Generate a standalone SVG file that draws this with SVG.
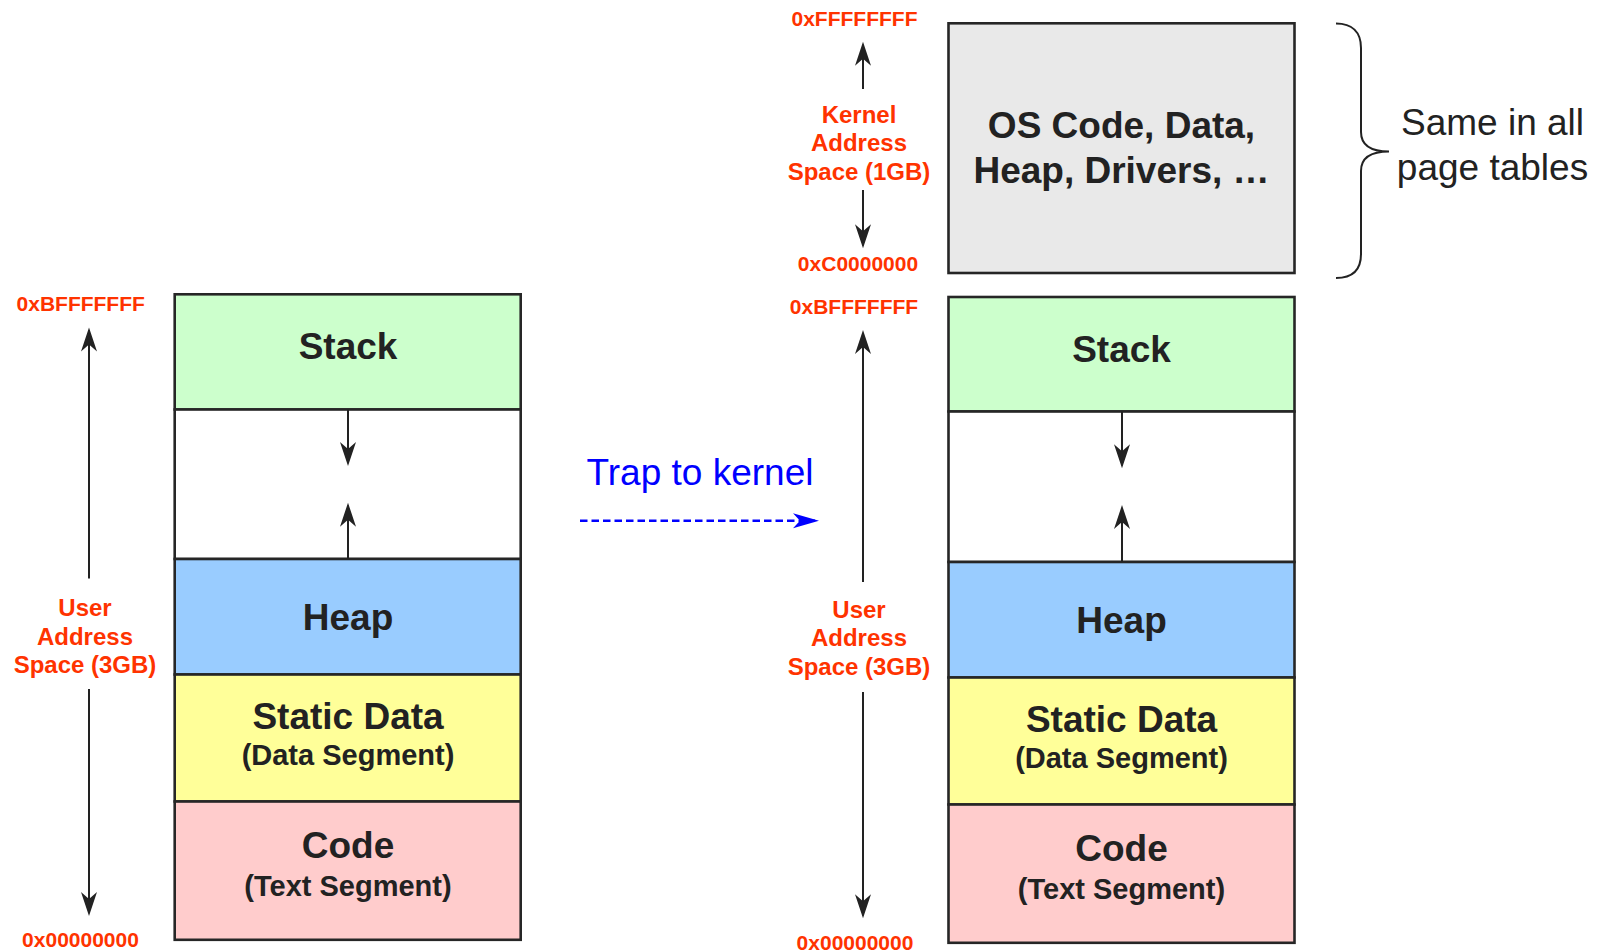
<svg xmlns="http://www.w3.org/2000/svg" width="1605" height="952" viewBox="0 0 1605 952">
<style>
.seg{stroke:#262626;stroke-width:2.6}
.t{font-family:"Liberation Sans",Arial,sans-serif;font-weight:bold;fill:#222;text-anchor:middle}
.big{font-size:37px}
.sub{font-size:29px}
.lbl{font-family:"Liberation Sans",Arial,sans-serif;font-weight:bold;fill:#ff3300;text-anchor:middle;font-size:24px}
.addr{font-family:"Liberation Sans",Arial,sans-serif;font-weight:bold;fill:#ff3300;text-anchor:middle;font-size:21px}
.ln{stroke:#222;stroke-width:2;fill:none}
.note{font-family:"Liberation Sans",Arial,sans-serif;fill:#222;text-anchor:middle;font-size:37px}
</style>
<defs>
<marker id="ah" markerUnits="userSpaceOnUse" viewBox="-24 -9 30 18" markerWidth="30" markerHeight="18" refX="0" refY="0" orient="auto">
<path d="M3,0 L-21,-8 L-14,0 L-21,8 Z" fill="#222"/>
</marker>
<marker id="ahb" markerUnits="userSpaceOnUse" viewBox="-26 -9 32 18" markerWidth="32" markerHeight="18" refX="0" refY="0" orient="auto">
<path d="M4,0 L-22,-7.5 L-15,0 L-22,7.5 Z" fill="#0000ff"/>
</marker>
</defs>

<g id="left-space">
<g id="left-stack"><rect class="seg" x="174.7" y="294.3" width="346" height="115.2" fill="#ccffcc"/><text class="t big" x="348" y="359">Stack</text></g>
<g id="left-gap"><rect class="seg" x="174.7" y="409.5" width="346" height="149.5" fill="#ffffff"/></g>
<g id="left-heap"><rect class="seg" x="174.7" y="559" width="346" height="115.5" fill="#99ccff"/><text class="t big" x="348" y="630">Heap</text></g>
<g id="left-static"><rect class="seg" x="174.7" y="674.5" width="346" height="127" fill="#ffff99"/><text class="t big" x="348" y="729">Static Data</text><text class="t sub" x="348" y="765">(Data Segment)</text></g>
<g id="left-code"><rect class="seg" x="174.7" y="801.5" width="346" height="138.3" fill="#ffcccc"/><text class="t big" x="348" y="858">Code</text><text class="t sub" x="348" y="896">(Text Segment)</text></g>
</g>

<g id="right-space">
<g id="kernel"><rect class="seg" x="948.5" y="23.3" width="346" height="249.7" fill="#e9e9e9"/><text class="t big" x="1121.5" y="138">OS Code, Data,</text><text class="t big" x="1121.5" y="183">Heap, Drivers, …</text></g>
<g id="right-stack"><rect class="seg" x="948.5" y="297" width="346" height="114.5" fill="#ccffcc"/><text class="t big" x="1121.5" y="361.5">Stack</text></g>
<g id="right-gap"><rect class="seg" x="948.5" y="411.5" width="346" height="150.5" fill="#ffffff"/></g>
<g id="right-heap"><rect class="seg" x="948.5" y="562" width="346" height="115.5" fill="#99ccff"/><text class="t big" x="1121.5" y="632.5">Heap</text></g>
<g id="right-static"><rect class="seg" x="948.5" y="677.5" width="346" height="127" fill="#ffff99"/><text class="t big" x="1121.5" y="731.5">Static Data</text><text class="t sub" x="1121.5" y="768">(Data Segment)</text></g>
<g id="right-code"><rect class="seg" x="948.5" y="804.5" width="346" height="138.3" fill="#ffcccc"/><text class="t big" x="1121.5" y="861">Code</text><text class="t sub" x="1121.5" y="899">(Text Segment)</text></g>
</g>

<g id="labels">
<text class="addr" x="80.7" y="311">0xBFFFFFFF</text>
<text class="addr" x="80.5" y="947">0x00000000</text>
<text class="lbl" x="85" y="616">User</text>
<text class="lbl" x="85" y="644.5">Address</text>
<text class="lbl" x="85" y="673">Space (3GB)</text>

<text class="addr" x="854.5" y="26">0xFFFFFFFF</text>
<text class="lbl" x="859" y="122.7">Kernel</text>
<text class="lbl" x="859" y="151">Address</text>
<text class="lbl" x="859" y="180">Space (1GB)</text>
<text class="addr" x="858" y="271">0xC0000000</text>

<text class="addr" x="854" y="313.5">0xBFFFFFFF</text>
<text class="lbl" x="859" y="617.7">User</text>
<text class="lbl" x="859" y="646.2">Address</text>
<text class="lbl" x="859" y="675">Space (3GB)</text>
<text class="addr" x="855" y="950">0x00000000</text>

<text class="note" x="1492.5" y="135">Same in all</text>
<text class="note" x="1492.5" y="180">page tables</text>
<text x="700" y="485" font-family="Liberation Sans,Arial,sans-serif" font-size="37" fill="#0000ff" text-anchor="middle">Trap to kernel</text>
</g>

<g id="connectors">
<line class="ln" x1="89" y1="578.5" x2="89" y2="330.5" marker-end="url(#ah)"/>
<line class="ln" x1="89" y1="689" x2="89" y2="913" marker-end="url(#ah)"/>
<line class="ln" x1="348" y1="409.5" x2="348" y2="463" marker-end="url(#ah)"/>
<line class="ln" x1="348" y1="559" x2="348" y2="505.7" marker-end="url(#ah)"/>

<line class="ln" x1="863" y1="89" x2="863" y2="44.7" marker-end="url(#ah)"/>
<line class="ln" x1="863" y1="190" x2="863" y2="245.3" marker-end="url(#ah)"/>
<line class="ln" x1="863" y1="582" x2="863" y2="333" marker-end="url(#ah)"/>
<line class="ln" x1="863" y1="692" x2="863" y2="915.3" marker-end="url(#ah)"/>
<line class="ln" x1="1122" y1="411.5" x2="1122" y2="465.3" marker-end="url(#ah)"/>
<line class="ln" x1="1122" y1="562" x2="1122" y2="508" marker-end="url(#ah)"/>

<line x1="580" y1="520.7" x2="815" y2="520.7" stroke="#0000ff" stroke-width="2.5" stroke-dasharray="7.5 4" marker-end="url(#ahb)"/>
<path class="ln" d="M1336,23.5 C1352,23.5 1361,32 1361,48 L1361,132 C1361,145 1371,151.5 1389,151.5 C1371,151.5 1361,158 1361,171 L1361,254 C1361,270 1352,278 1336,278"/>
</g>
</svg>
